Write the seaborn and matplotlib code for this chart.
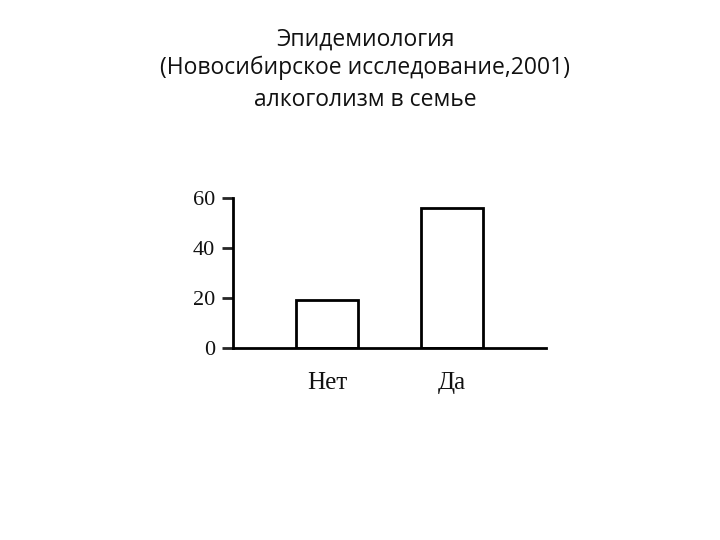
import pandas as pd
import seaborn as sns
import matplotlib.pyplot as plt

categories = ["Нет", "Да"]
values = [19, 56]

title_lines = ["Эпидемиология", "(Новосибирское исследование,2001)", "алкоголизм в семье"]

sns.set_style("white")

df = pd.DataFrame({"group": categories, "value": values})

fig = plt.figure(figsize=(7.2, 5.4), dpi=100)
ax = fig.add_axes([0.3236, 0.3556, 0.4347, 0.2778])

sns.barplot(data=df, x="group", y="value", ax=ax, color="white",
            edgecolor="black", linewidth=2, width=0.5, saturation=1)

ax.set_xlim(-0.75, 1.75)
ax.set_ylim(0, 60)
ax.set_yticks([0, 20, 40, 60])
ax.set_xlabel("")
ax.set_ylabel("")

for side in ["top", "right"]:
    ax.spines[side].set_visible(False)
for side in ["left", "bottom"]:
    ax.spines[side].set_linewidth(2)
    ax.spines[side].set_color("black")

ax.tick_params(axis="y", left=True, length=8, width=2, pad=5, labelsize=16)
ax.tick_params(axis="x", bottom=False, length=0, pad=17, labelsize=18)
for lab in ax.get_xticklabels() + ax.get_yticklabels():
    lab.set_family("Liberation Serif")
    lab.set_color("#111111")

ys = [0.926, 0.874, 0.815]
for line, y in zip(title_lines, ys):
    fig.text(0.507, y, line, ha="center", va="center", fontsize=16.5,
             family=["Open Sans", "DejaVu Sans"], color="#111111")

fig.savefig("out.png", dpi=100)
